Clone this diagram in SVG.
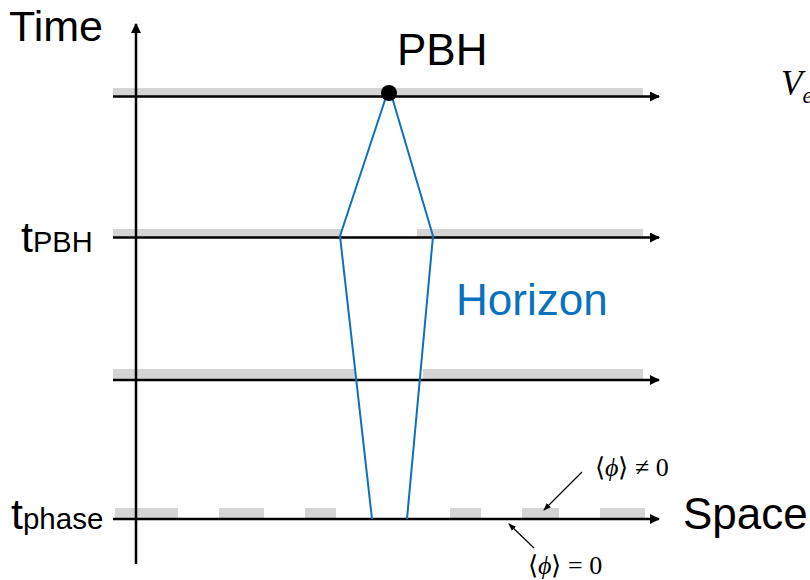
<svg xmlns="http://www.w3.org/2000/svg" width="810" height="580" viewBox="0 0 810 580">
<defs>
<marker id="ah" markerWidth="10" markerHeight="10" refX="9" refY="5" orient="auto" markerUnits="userSpaceOnUse">
<path d="M0,0 L10,5 L0,10 Z" fill="#000"/>
</marker>
<marker id="ahs" markerWidth="8" markerHeight="8" refX="7" refY="4" orient="auto" markerUnits="userSpaceOnUse">
<path d="M0,1 L8,4 L0,7 Z" fill="#000"/>
</marker>
</defs>
<style>
.band{fill:#d4d4d4}
.ax{stroke:#000;stroke-width:2.5;fill:none}
.hz{stroke:#0a72bd;stroke-width:2;fill:none}
.lbl{font-family:"Liberation Sans",Arial,Helvetica,sans-serif;fill:#000}
.math{font-family:"Liberation Serif","Times New Roman",serif;fill:#000}
.thin{stroke:#000;stroke-width:1.2;fill:none}
</style>
<rect width="810" height="580" fill="#fff"/>
<g id="bands">
<rect class="band" x="113" y="88" width="530" height="8"/>
<rect class="band" x="113" y="229" width="228" height="8"/>
<rect class="band" x="417" y="229" width="226" height="8"/>
<rect class="band" x="113" y="369" width="242" height="10"/>
<rect class="band" x="423" y="369" width="220" height="10"/>
<rect class="band" x="115" y="508" width="63" height="10"/>
<rect class="band" x="219" y="508" width="45" height="10"/>
<rect class="band" x="305" y="508" width="31" height="10"/>
<rect class="band" x="450" y="508" width="31" height="10"/>
<rect class="band" x="522" y="508" width="37" height="10"/>
<rect class="band" x="600" y="508" width="45" height="10"/>
</g>
<g id="connectors">
<line class="ax" x1="136" y1="564" x2="136" y2="24" marker-end="url(#ah)"/>
<line class="ax" x1="113" y1="96.5" x2="659" y2="96.5" marker-end="url(#ah)"/>
<line class="ax" x1="113" y1="237.5" x2="659" y2="237.5" marker-end="url(#ah)"/>
<line class="ax" x1="113" y1="380" x2="659" y2="380" marker-end="url(#ah)"/>
<line class="ax" x1="113" y1="519" x2="659" y2="519" marker-end="url(#ah)"/>
<polyline class="hz" points="386,97 340,236 372,519"/>
<polyline class="hz" points="392,97 433,236 407,519"/>
<line class="thin" x1="582" y1="472" x2="544" y2="510" marker-end="url(#ahs)"/>
<line class="thin" x1="534" y1="548" x2="509" y2="524" marker-end="url(#ahs)"/>
</g>
<g id="pbh">
<circle cx="389" cy="93" r="8" fill="#000"/>
<text class="lbl" x="397" y="65" font-size="44">PBH</text>
</g>
<g id="labels">
<text class="lbl" x="9" y="41" font-size="43">Time</text>
<text class="lbl" x="21" y="252" font-size="43">t<tspan font-size="29">PBH</tspan></text>
<text class="lbl" x="11" y="529" font-size="43">t<tspan font-size="29.5">phase</tspan></text>
<text class="lbl" x="683" y="529" font-size="44">Space</text>
<text class="lbl" x="456" y="315" font-size="44" style="fill:#0a72bd">Horizon</text>
<text class="math" x="781" y="95" font-size="35" font-style="italic">V<tspan font-size="23" dy="8">e</tspan></text>
<text class="math" x="595" y="476" font-size="26">⟨<tspan font-style="italic">ϕ</tspan>⟩ ≠ 0</text>
<text class="math" x="528" y="574" font-size="26">⟨<tspan font-style="italic">ϕ</tspan>⟩ = 0</text>
</g>
</svg>
